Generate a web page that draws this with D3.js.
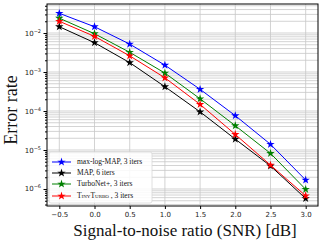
<!DOCTYPE html>
<html>
<head>
<meta charset="utf-8">
<script src="https://cdn.jsdelivr.net/npm/d3@7"></script>
<style>
  body { margin: 0; background: #fff; }
  svg { display: block; }
</style>
</head>
<body>
<div id="chart"></div>
<script>
const snr = [-0.5, 0.0, 0.5, 1.0, 1.5, 2.0, 2.5, 3.0];
const maxLogMap = [3.2e-2, 1.45e-2, 5.2e-3, 1.5e-3, 3.6e-4, 7.6e-5, 1.4e-5, 1.7e-6];
const map6 = [1.45e-2, 5.65e-3, 1.74e-3, 4.2e-4, 9.5e-5, 1.9e-5, 3.9e-6, 5.7e-7];
const turboNet = [2.4e-2, 9.6e-3, 3.2e-3, 9.4e-4, 2.06e-4, 4.2e-5, 8.2e-6, 9.8e-7];
const tinyTurbo = [2.0e-2, 8.2e-3, 2.6e-3, 7.1e-4, 1.48e-4, 2.5e-5, 4.1e-6, 6.7e-7];
const xTicks = [-0.5, 0.0, 0.5, 1.0, 1.5, 2.0, 2.5, 3.0];
const yTicks = [-6, -5, -4, -3, -2];

const series = [
  { name: "max-log-MAP, 3 iters", color: "#0000ff", values: maxLogMap },
  { name: "MAP, 6 iters", color: "#000000", values: map6 },
  { name: "TurboNet+, 3 iters", color: "#008000", values: turboNet },
  { name: "TinyTurbo", suffix: " , 3 iters", color: "#ff0000", values: tinyTurbo }
];

const width = 330, height = 243;
const pLeft = 47, pRight = 318, pTop = 4, pBottom = 206;

const svg = d3.select("#chart").append("svg")
  .attr("width", width)
  .attr("height", height);

const x = d3.scaleLinear().domain([-0.675, 3.175]).range([pLeft, pRight]);
const y = d3.scaleLog().domain([Math.pow(10, -6.436), Math.pow(10, -1.256)]).range([pBottom, pTop]);

// grid
const grid = svg.append("g").attr("stroke", "#c8c8c8").attr("stroke-width", 0.8);
xTicks.forEach(t => {
  grid.append("line").attr("x1", x(t)).attr("x2", x(t)).attr("y1", pTop).attr("y2", pBottom);
});
const minor = [];
for (let e = -7; e <= -1; e++) {
  for (let m = 1; m <= 9; m++) {
    const v = m * Math.pow(10, e);
    if (v >= y.domain()[0] && v <= y.domain()[1]) minor.push(v);
  }
}
minor.forEach(v => {
  grid.append("line").attr("x1", pLeft).attr("x2", pRight).attr("y1", y(v)).attr("y2", y(v));
});

// axes
const xAxis = d3.axisBottom(x).tickValues(xTicks).tickSize(3).tickPadding(3)
  .tickFormat(d => d < 0 ? "\u2212" + Math.abs(d).toFixed(1) : d.toFixed(1));
const gx = svg.append("g").attr("transform", `translate(0,${pBottom})`).call(xAxis);
gx.select(".domain").remove();
gx.selectAll("text").attr("font-family", "DejaVu Sans").attr("font-size", 7).attr("fill", "#222");

const majorVals = yTicks.map(e => Math.pow(10, e));
const yAxis = d3.axisLeft(y).tickValues(majorVals).tickFormat("").tickSize(3.5);
const gy = svg.append("g").attr("transform", `translate(${pLeft},0)`).call(yAxis);
gy.select(".domain").remove();
const minorOnly = minor.filter(v => Math.abs(Math.log10(v) - Math.round(Math.log10(v))) > 1e-6);
const yMinor = d3.axisLeft(y).tickValues(minorOnly).tickFormat("").tickSize(2);
const gym = svg.append("g").attr("transform", `translate(${pLeft},0)`).call(yMinor);
gym.select(".domain").remove();

yTicks.forEach(e => {
  const t = svg.append("text")
    .attr("x", pLeft - 6).attr("y", y(Math.pow(10, e)) + 2.5)
    .attr("text-anchor", "end")
    .attr("font-family", "DejaVu Sans").attr("font-size", 7).attr("fill", "#222");
  t.append("tspan").text("10");
  t.append("tspan").attr("dy", -3).attr("font-size", 5).text("\u2212" + Math.abs(e));
});

svg.append("rect").attr("x", pLeft).attr("y", pTop).attr("width", pRight - pLeft).attr("height", pBottom - pTop)
  .attr("fill", "none").attr("stroke", "#000").attr("stroke-width", 1);

// lines
const line = d3.line().x((d, i) => x(snr[i])).y(d => y(d));
const star = d3.symbol().type(d3.symbolStar).size(22);
series.forEach(s => {
  svg.append("path").datum(s.values).attr("d", line)
    .attr("fill", "none").attr("stroke", s.color).attr("stroke-width", 1);
  svg.selectAll(null).data(s.values).enter().append("path")
    .attr("d", star)
    .attr("transform", (d, i) => `translate(${x(snr[i])},${y(d)})`)
    .attr("fill", s.color);
});

// legend
const lg = svg.append("g");
lg.append("rect").attr("x", 49).attr("y", 152).attr("width", 103).attr("height", 51).attr("rx", 2)
  .attr("fill", "#fff").attr("fill-opacity", 0.85).attr("stroke", "#d8d8d8").attr("stroke-width", 0.8);
const rowsY = [162, 173, 184, 196];
series.forEach((s, i) => {
  const ry = rowsY[i];
  lg.append("line").attr("x1", 52).attr("x2", 71).attr("y1", ry).attr("y2", ry)
    .attr("stroke", s.color).attr("stroke-width", 1);
  lg.append("path").attr("d", star).attr("transform", `translate(61.5,${ry})`).attr("fill", s.color);
  const t = lg.append("text").attr("x", 77).attr("y", ry + 2.3)
    .attr("font-family", "Liberation Serif").attr("font-size", 7.5).attr("fill", "#111");
  if (s.suffix) {
    t.append("tspan").text(s.name).attr("style", "font-variant: small-caps");
    t.append("tspan").text(s.suffix);
  } else {
    t.text(s.name);
  }
});

// axis labels
svg.append("text").attr("x", 185).attr("y", 236).attr("text-anchor", "middle")
  .attr("font-family", "Liberation Serif").attr("font-size", 17).attr("fill", "#111")
  .text("Signal-to-noise ratio (SNR) [dB]");
svg.append("text").attr("transform", `translate(17,110) rotate(-90)`)
  .attr("text-anchor", "middle")
  .attr("font-family", "Liberation Serif").attr("font-size", 18).attr("fill", "#111")
  .text("Error rate");
</script>
</body>
</html>
